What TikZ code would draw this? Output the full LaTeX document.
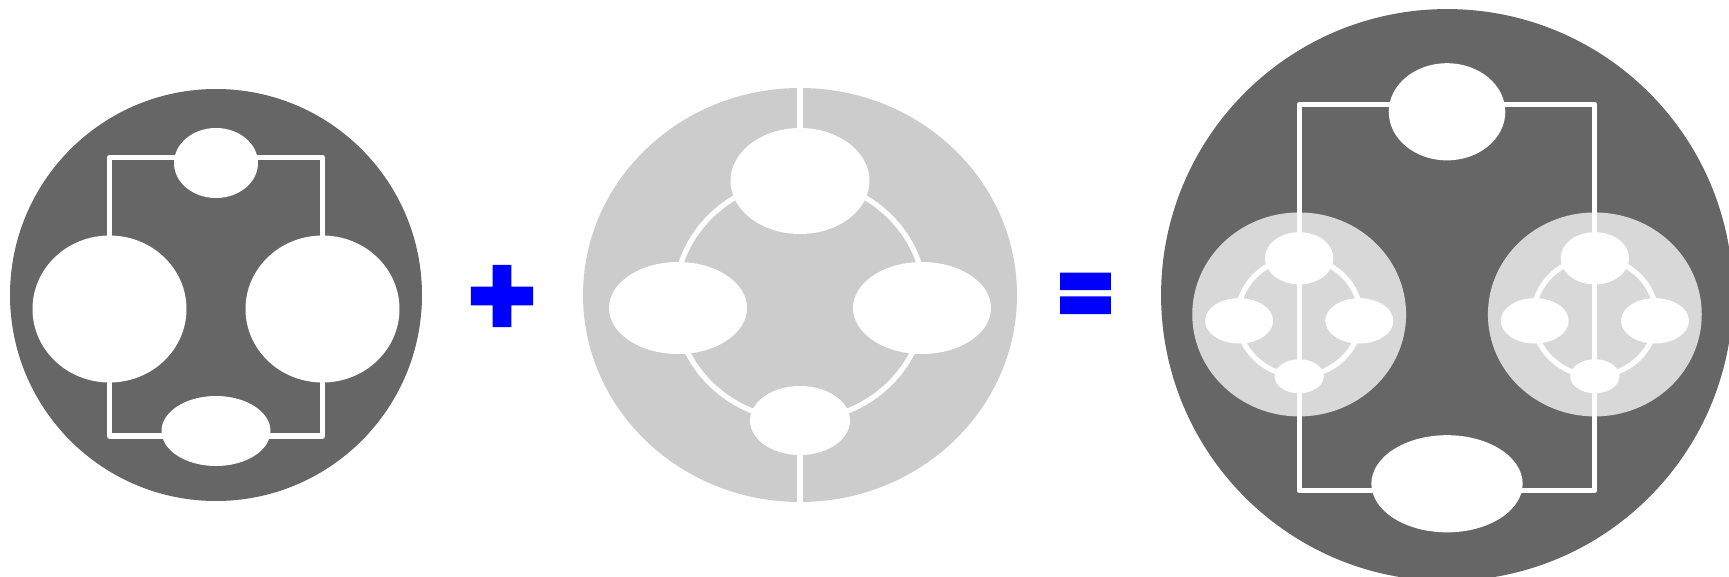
\documentclass[tikz,border=0pt]{standalone}
\usepackage{fontspec}
\newfontfamily\plusfont{DejaVu Sans}[UprightFont={* Bold},FakeBold=10.5]
\newfontfamily\equalsfont{DejaVu Sans}[UprightFont={* Bold},FakeBold=5]

\definecolor{darkdisc}{HTML}{666666}
\definecolor{lightdisc}{HTML}{CCCCCC}

\tikzset{
  wire/.style={draw=white, line width=2.6pt, line join=round},
  hole/.style={fill=white},
  sign/.style={text=blue, inner sep=0pt}
}

% disc with four holes on a ring
\newcommand{\ringdisc}[1]{%
  \fill[#1] (0,0) ellipse[x radius=217, y radius=207];
  \draw[wire] (0,-207) -- (0,-114);
  \draw[wire] (0,125.5) -- (0,207);
  \draw[wire] (0,5) ellipse[x radius=125, y radius=120];
  \fill[hole] (0,-114) ellipse[x radius=69.5, y radius=53];
  \fill[hole] (-122,13) ellipse[x radius=69, y radius=46];
  \fill[hole] (122,13) ellipse[x radius=69, y radius=46];
  \fill[hole] (0,125.5) ellipse[x radius=50, y radius=34.5];
}

% dark disc with the rectangular loop
\newcommand{\loopdisc}{%
  \fill[darkdisc] (0,0) circle[radius=206];
  \draw[wire] (-106.5,-137.5) rectangle (106.5,141);
  \fill[hole] (0,-132) ellipse[x radius=42, y radius=35];
  \fill[hole] (0,136) ellipse[x radius=54.5, y radius=35];
}

\begin{document}
\begin{tikzpicture}[x=0.5pt,y=-0.5pt]
  \useasboundingbox (0,0) rectangle (1729,577);
  \clip (0,0) rectangle (1729,577);

  % first disc
  \begin{scope}[shift={(216,295)}]
    \loopdisc
    \fill[hole] (-106.5,14) ellipse[x radius=77, y radius=73.5];
    \fill[hole] (106.5,14) ellipse[x radius=77, y radius=73.5];
  \end{scope}

  \node[sign,font=\plusfont\fontsize{42.5}{42.5}\selectfont] (plus) at (502,296) {+};

  % second disc
  \begin{scope}[shift={(800,295)}]
    \ringdisc{lightdisc}
  \end{scope}

  \node[sign,font=\equalsfont\fontsize{37.5}{37.5}\selectfont] (equals) at (1085.5,301) {\scalebox{1}[1.42]{=}};

  % result
  \begin{scope}[shift={(1447,295)},scale=1.388]
    \loopdisc
    \begin{scope}[shift={(-106.5,14)},scale=0.355]
      \ringdisc{white,fill opacity=0.75}
    \end{scope}
    \begin{scope}[shift={(106.5,14)},scale=0.355]
      \ringdisc{white,fill opacity=0.75}
    \end{scope}
  \end{scope}
\end{tikzpicture}
\end{document}
